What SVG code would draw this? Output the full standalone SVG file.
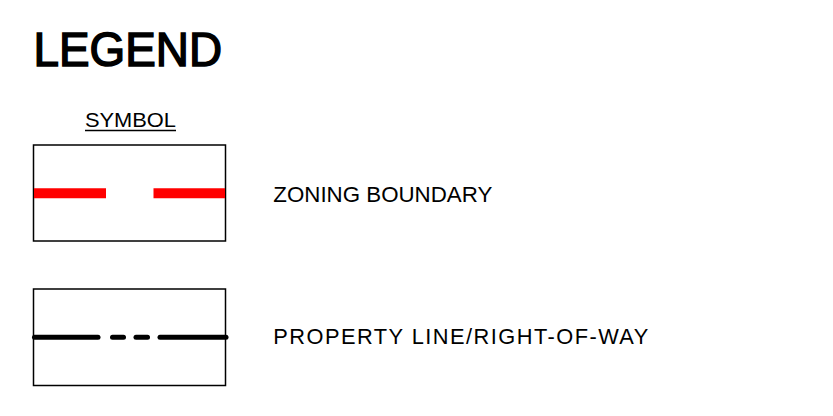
<svg xmlns="http://www.w3.org/2000/svg" width="833" height="416" viewBox="0 0 833 416">
<style>
.t{font-family:"Liberation Sans",Arial,sans-serif;fill:#000}
.box{fill:none;stroke:#000;stroke-width:1.5}
</style>
<rect width="833" height="416" fill="#fff"/>
<g id="title">
<text class="t" x="33.5" y="66.3" font-size="47.5" stroke="#000" stroke-width="1.5" textLength="188.5" lengthAdjust="spacingAndGlyphs">LEGEND</text>
</g>
<g id="symbol-header">
<text class="t" x="85" y="127.3" font-size="21" textLength="91" lengthAdjust="spacingAndGlyphs">SYMBOL</text>
<line x1="85" y1="130.5" x2="176" y2="130.5" stroke="#000" stroke-width="1.3"/>
</g>
<g id="zoning">
<rect class="box" x="33.5" y="145" width="192" height="96"/>
<line x1="34" y1="193.3" x2="106" y2="193.3" stroke="#f00" stroke-width="10"/>
<line x1="153.5" y1="193.3" x2="225" y2="193.3" stroke="#f00" stroke-width="10"/>
<text class="t" x="273.3" y="202.3" font-size="21.8" textLength="219" lengthAdjust="spacingAndGlyphs">ZONING BOUNDARY</text>
</g>
<g id="property">
<rect class="box" x="33.5" y="289" width="192" height="96.5"/>
<g stroke="#000" stroke-width="5" stroke-linecap="round">
<line x1="34.5" y1="337.3" x2="98" y2="337.3"/>
<line x1="112.5" y1="337.3" x2="123.5" y2="337.3"/>
<line x1="136" y1="337.3" x2="147.5" y2="337.3"/>
<line x1="160" y1="337.3" x2="226" y2="337.3"/>
</g>
<text class="t" x="273.3" y="344" font-size="21.8" textLength="375" lengthAdjust="spacing">PROPERTY LINE/RIGHT-OF-WAY</text>
</g>
</svg>
